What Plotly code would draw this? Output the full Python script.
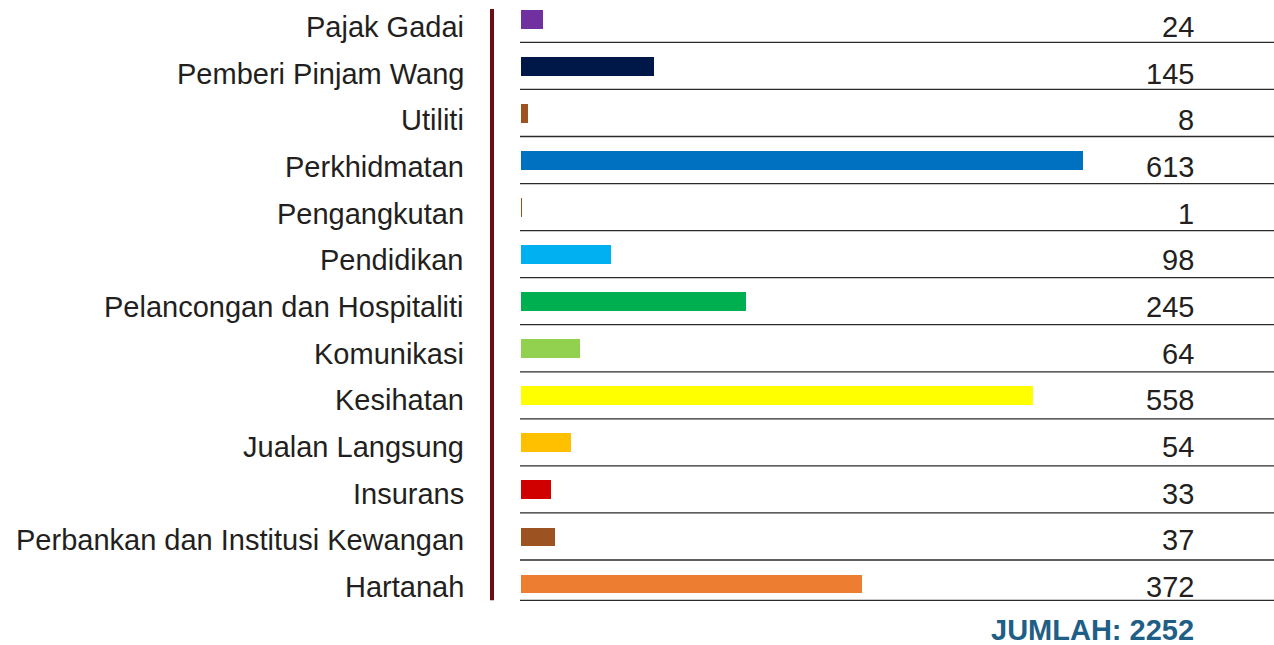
import plotly.graph_objects as go

categories = ["Pajak Gadai", "Pemberi Pinjam Wang", "Utiliti", "Perkhidmatan", "Pengangkutan",
              "Pendidikan", "Pelancongan dan Hospitaliti", "Komunikasi", "Kesihatan",
              "Jualan Langsung", "Insurans", "Perbankan dan Institusi Kewangan", "Hartanah"]
values = [24, 145, 8, 613, 1, 98, 245, 64, 558, 54, 33, 37, 372]
colors = ["#7030a0", "#001848", "#9c5221", "#0070c0", "#9c5221", "#00b0f0", "#00b050",
          "#92d050", "#ffff00", "#ffc000", "#d00000", "#9c5221", "#ed7d31"]
total_label = "JUMLAH: 2252"

W, H = 1274, 645
L, B = 521, 40
px_per_unit = 562 / 613.0
row_px = 47.06
top_y = -19.3 / row_px
bot_y = (H - B - 19.3) / row_px

FONT = "Liberation Sans, Arial, Helvetica, sans-serif"
TXT = "#231f20"

fig = go.Figure(go.Bar(
    x=values, y=categories, orientation="h",
    marker=dict(color=colors, line=dict(width=0)),
    width=0.40, hoverinfo="x+y",
))

n = len(categories)
plot_w = W - L
annotations = []
shapes = []
for i, (c, v) in enumerate(zip(categories, values)):
    ys = -(7.7 - 4.7 * i / (n - 1))
    annotations.append(dict(text=c, x=(466 - L) / plot_w, xref="paper", y=c, yref="y",
                             xanchor="right", yanchor="middle", showarrow=False, yshift=ys,
                             font=dict(family=FONT, size=29, color=TXT)))
    annotations.append(dict(text=str(v), x=(1196 - L) / plot_w, xref="paper", y=c, yref="y",
                             xanchor="right", yanchor="middle", showarrow=False, yshift=ys,
                             font=dict(family=FONT, size=29, color=TXT)))
    ly = i + 0.49 if i < n - 1 else (600.3 - 19.3) / row_px
    shapes.append(dict(type="line", xref="paper", yref="y", x0=-1 / plot_w, x1=1,
                       y0=ly, y1=ly, line=dict(color="#2a2a2a", width=1.3)))

shapes.append(dict(type="line", xref="paper", yref="y", x0=(492 - L) / plot_w, x1=(492 - L) / plot_w,
                   y0=(9 - 19.3) / row_px, y1=(600.3 - 19.3) / row_px,
                   line=dict(color="#6b0d12", width=4)))

annotations.append(dict(text="<b>" + total_label + "</b>", x=(1196 - L) / plot_w, xref="paper",
                        y=(H - B - 630) / (H - B), yref="paper", xanchor="right", yanchor="middle",
                        showarrow=False, font=dict(family=FONT, size=29, color="#1f5f86")))

fig.update_layout(
    width=W, height=H,
    margin=dict(l=L, r=0, t=0, b=B, pad=0),
    paper_bgcolor="white", plot_bgcolor="white",
    showlegend=False,
    xaxis=dict(range=[0, plot_w / px_per_unit], visible=False, fixedrange=True),
    yaxis=dict(type="category", categoryorder="array", categoryarray=categories,
               range=[bot_y, top_y], visible=False, fixedrange=True),
    annotations=annotations, shapes=shapes,
    bargap=0,
)

fig.write_html("out.html", config={"displayModeBar": False},
               post_script="document.body.style.margin='0';document.body.style.overflow='hidden';")
